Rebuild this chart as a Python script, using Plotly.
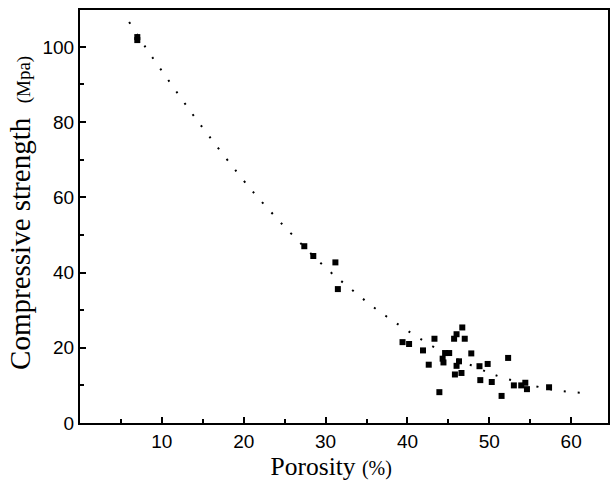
import plotly.graph_objects as go

# Measured data (porosity %, compressive strength MPa)
porosity = [7.0, 7.0, 27.4, 28.5, 31.2, 31.5, 39.4, 40.2, 43.3, 41.9, 42.6, 46.7, 46.0, 45.7,
            47.0, 44.6, 45.1, 44.3, 44.4, 47.8, 46.3, 46.0, 46.6, 45.8, 48.8, 49.8, 48.9,
            50.3, 52.3, 43.9, 51.5, 53.0, 53.9, 54.4, 54.6, 57.3]
strength = [102.6, 101.8, 47.0, 44.4, 42.7, 35.6, 21.5, 21.0, 22.4, 19.3, 15.5, 25.4, 23.6, 22.4,
            22.4, 18.6, 18.6, 17.1, 16.1, 18.5, 16.4, 15.2, 13.3, 12.9, 15.1, 15.7, 11.4,
            10.9, 17.3, 8.2, 7.2, 10.0, 10.0, 10.7, 9.0, 9.5]

# Fitted trend curve
fit_x = [6.0, 8.0, 10.1, 12.3, 14.5, 20.5, 23.2, 26.0, 30.2, 33.0, 35.8, 38.6, 41.5,
         44.5, 47.1, 49.9, 51.3, 55.6, 58.4, 61.3]
fit_y = [106.6, 99.9, 93.3, 86.5, 79.9, 63.1, 56.4, 49.9, 40.9, 35.8, 30.9, 26.6, 22.5,
         18.6, 16.0, 13.4, 12.3, 9.8, 8.6, 8.0]

x_ticks = [10, 20, 30, 40, 50, 60]
y_ticks = [0, 20, 40, 60, 80, 100]

SANS = "Arial, 'Liberation Sans', sans-serif"
SERIF = "'Times New Roman', 'Liberation Serif', serif"

fig = go.Figure()
fig.add_trace(go.Scatter(
    x=fit_x, y=fit_y, mode="lines",
    line=dict(color="black", width=2, dash="2px,12px", shape="spline"),
    hoverinfo="skip", showlegend=False))
fig.add_trace(go.Scatter(
    x=porosity, y=strength, mode="markers",
    marker=dict(symbol="square", size=6, color="black"),
    showlegend=False))

axis_common = dict(
    showline=True, linecolor="black", linewidth=2, mirror=True,
    ticks="inside", ticklen=6, tickwidth=2, tickcolor="black",
    showgrid=False, zeroline=False, automargin=False,
    tickfont=dict(family=SANS, size=19, color="black"),
)

fig.update_xaxes(
    range=[0, 64.5], tickvals=x_ticks,
    minor=dict(dtick=5, tick0=0, ticks="inside", ticklen=4, tickwidth=1.5, tickcolor="black"),
    title=dict(text='Porosity <span style="font-size:20px">(%)</span>&nbsp;&nbsp;&nbsp;&nbsp;',
               font=dict(family=SERIF, size=25.5, color="black"),
               standoff=0),
    **axis_common)
fig.update_yaxes(
    range=[0, 109.8], tickvals=y_ticks,
    minor=dict(dtick=10, tick0=0, ticks="inside", ticklen=4, tickwidth=1.5, tickcolor="black"),
    title=dict(text='&nbsp;Compressive strength  <span style="font-size:19px">(Mpa)</span>',
               font=dict(family=SERIF, size=29, color="black"),
               standoff=3),
    **axis_common)

fig.update_layout(
    width=613, height=482,
    margin=dict(l=80, r=5, t=10, b=59),
    plot_bgcolor="white", paper_bgcolor="white",
)

fig.write_html(
    "out.html",
    config={"displayModeBar": False},
    post_script="document.body.style.margin='0';document.body.style.overflow='hidden';",
)
